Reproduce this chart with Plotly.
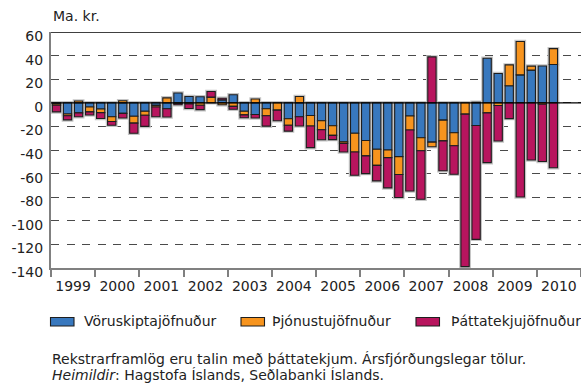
import plotly.graph_objects as go

# Quarterly current account components, bn. ISK (1999 Q1 - 2010 Q2)
years = list(range(1999, 2011))
quarters = [f"{y}-Q{q}" for y in years for q in range(1, 5)][:46]
y_ticks = list(range(-140, 61, 20))

voruskiptajofnudur = [
    -0.5, -9.5, -8.5, -3.5, -5.3, -11.8, -9.0, -11.4, -7.2, -2.2,
    -5.1, 8.3, 5.3, 5.1, 0.0, 2.5, 6.8, -7.2, -9.9, -5.0,
    0.0, -13.5, -11.8, -10.7, -15.2, -19.4, -33.0, -25.8, -32.0, -39.4,
    -40.0, -45.6, -11.2, -29.6, -33.3, -14.7, -25.4, 0.0, -19.2, 37.7,
    24.8, 14.5, 23.7, 27.7, 31.2, 32.4,
]
thjonustujofnudur = [
    -1.5, -1.5, 1.5, -4.2, -3.0, -4.0, 1.7, -5.8, -3.3, -1.3,
    4.2, -0.5, -1.0, -2.1, 4.8, -1.7, -3.0, -3.0, 3.2, -6.0,
    -6.2, -5.5, 5.4, -9.0, -7.6, -8.2, -1.4, -15.9, -13.0, -13.6,
    -6.5, -15.2, -11.8, -11.0, -3.9, -17.6, -11.0, -9.6, 0.5, -8.5,
    -2.3, 17.6, 28.2, 3.4, -1.2, 13.5,
]
thattatekjujofnudur = [
    -5.7, -3.5, -3.3, -2.6, -5.0, -3.2, -3.9, -8.6, -9.5, -8.3,
    -6.9, -1.2, -3.8, -3.7, 4.8, 1.4, -2.5, -2.5, -3.0, -8.8,
    -9.0, -5.0, -7.9, -18.3, -8.5, -3.6, -7.3, -19.7, -15.0, -13.2,
    -25.6, -19.4, -51.8, -41.2, 38.9, -25.3, -24.2, -129.2, -96.5, -42.2,
    -30.1, -13.4, -79.8, -48.5, -48.6, -55.0,
]

series_names = ["Vöruskiptajöfnuður", "Þjónustujöfnuður", "Þáttatekjujöfnuður"]
series_values = [voruskiptajofnudur, thjonustujofnudur, thattatekjujofnudur]
series_colors = ["#3878be", "#f7941e", "#b8155e"]

FONT = "DejaVu Sans"
W, H = 581, 387
ML, MR, MT, MB = 51, 0, 32, 119
PW, PH = W - ML - MR, H - MT - MB

x = list(range(len(quarters)))


def clean(vals):
    return [v if v != 0 else None for v in vals]


def px(xp):
    return (xp - ML) / PW


def py(yp):
    return (H - MB - yp) / PH


fig = go.Figure()

# soft grey halo behind the bars
for vals in series_values:
    fig.add_trace(go.Bar(
        x=x, y=clean(vals), xaxis="x", yaxis="y",
        marker=dict(color="#c4c4c4", line=dict(color="#c4c4c4", width=3.5)),
        showlegend=False, hoverinfo="skip",
    ))

# the stacked bars themselves
for name, vals, color in zip(series_names, series_values, series_colors):
    fig.add_trace(go.Bar(
        x=x, y=clean(vals), name=name, xaxis="x2", yaxis="y2",
        marker=dict(color=color, line=dict(color="#1e1e1e", width=1.1)),
        showlegend=False,
    ))

xr = [-0.5, 47.5]
yr = [-140, 60]

fig.update_layout(
    width=W, height=H,
    margin=dict(l=ML, r=MR, t=MT, b=MB, pad=0),
    paper_bgcolor="white", plot_bgcolor="white",
    barmode="relative", bargap=0.25,
    font=dict(family=FONT, size=14, color="#222"),
    xaxis=dict(
        range=xr, tickmode="array",
        tickvals=[1.5 + 4 * i for i in range(len(years))],
        ticktext=[str(y) for y in years],
        ticks="", showgrid=False, zeroline=False,
        showline=True, linecolor="#808080", linewidth=2,
        ticklabelstandoff=4,
        minor=dict(tickmode="linear", tick0=-0.5, dtick=4, ticks="outside",
                   ticklen=7, tickwidth=1.5, tickcolor="#808080", showgrid=False),
        tickfont=dict(family=FONT, size=14, color="#222"),
    ),
    yaxis=dict(
        range=yr, tickmode="array", tickvals=y_ticks,
        ticktext=[str(v) for v in y_ticks],
        showgrid=True, gridcolor="#4a4a4a", gridwidth=1.3, griddash="8px,7.5px",
        zeroline=False,
        showline=True, linecolor="#808080", linewidth=2,
        ticks="", ticklabelstandoff=3, ticklabelshift=4,
        tickfont=dict(family=FONT, size=14, color="#222"),
    ),
    xaxis2=dict(range=xr, overlaying="x", visible=False),
    yaxis2=dict(range=yr, overlaying="y", visible=False),
)

# solid frame line along the top of the plot and the zero line
fig.add_shape(type="line", xref="paper", x0=0, x1=1, yref="y", y0=60, y1=60,
              line=dict(color="#000", width=1.5), layer="above")
fig.add_shape(type="line", xref="paper", x0=0, x1=1, yref="y", y0=0, y1=0,
              line=dict(color="#000", width=1.3), layer="above")

fig.add_annotation(text="Ma. kr.", xref="paper", yref="paper",
                   x=px(51), y=py(16), xanchor="left", yanchor="middle",
                   showarrow=False, font=dict(family=FONT, size=14, color="#222"))

# legend drawn as swatches + labels below the chart
legend_swatch_x = [50.5, 241, 416]
legend_text_x = [81.5, 269.5, 448.5]
for name, color, sx, tx in zip(series_names, series_colors, legend_swatch_x, legend_text_x):
    fig.add_shape(type="rect", xref="paper", yref="paper",
                  x0=px(sx), x1=px(sx + 23.5), y0=py(326), y1=py(317.5),
                  fillcolor=color, line=dict(color="#1e1e1e", width=1.1))
    fig.add_annotation(text=name, xref="paper", yref="paper",
                       x=px(tx), y=py(321), xanchor="left", yanchor="middle",
                       showarrow=False, font=dict(family=FONT, size=14, color="#222"))

fig.add_annotation(text="Rekstrarframlög eru talin með þáttatekjum. Ársfjórðungslegar tölur.",
                   xref="paper", yref="paper", x=px(50), y=py(359),
                   xanchor="left", yanchor="middle", showarrow=False,
                   font=dict(family=FONT, size=14, color="#222"))
fig.add_annotation(text="<i>Heimildir</i>: Hagstofa Íslands, Seðlabanki Íslands.",
                   xref="paper", yref="paper", x=px(50), y=py(375),
                   xanchor="left", yanchor="middle", showarrow=False,
                   font=dict(family=FONT, size=14, color="#222"))

fig.write_html("out.html")
